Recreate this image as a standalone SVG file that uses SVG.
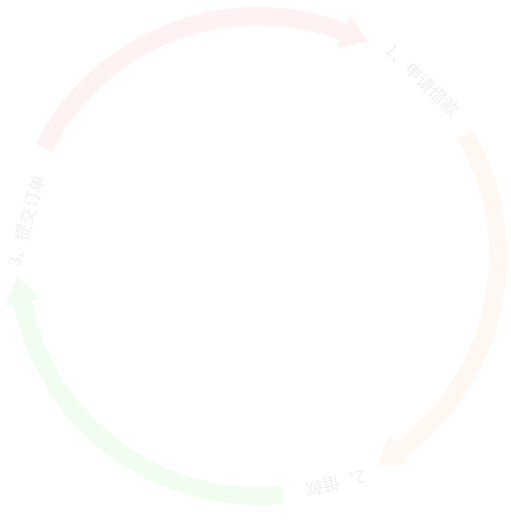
<svg xmlns="http://www.w3.org/2000/svg" width="511" height="520" viewBox="0 0 511 520">
  <style>
    .arc { fill: none; stroke-width: 18; stroke-linecap: butt; }
    .lbl { font-family: "Noto Sans CJK SC", "Liberation Sans", sans-serif; font-size: 17px; fill: #f1f1f1; text-anchor: middle; dominant-baseline: central; }
  </style>
  <defs>
    <marker id="mTop" markerUnits="userSpaceOnUse" markerWidth="30" markerHeight="40" refX="1" refY="20" orient="auto">
      <path d="M0,2 L27,20 L0,38 Z" fill="#fef2f2"/>
    </marker>
    <marker id="mRight" markerUnits="userSpaceOnUse" markerWidth="30" markerHeight="40" refX="1" refY="20" orient="auto">
      <path d="M0,2 L27,20 L0,38 Z" fill="#fff7f2"/>
    </marker>
    <marker id="mBottom" markerUnits="userSpaceOnUse" markerWidth="30" markerHeight="40" refX="1" refY="20" orient="auto">
      <path d="M0,2 L27,20 L0,38 Z" fill="#f2fdf2"/>
    </marker>
  </defs>
  <rect width="511" height="520" fill="#ffffff"/>
  <g id="connectors">
    <path class="arc" stroke="#fef2f2" d="M43.8,147.8 A240,240 0 0 1 344,31.9" marker-end="url(#mTop)"/>
    <path class="arc" stroke="#fff7f2" d="M464.8,134.2 A240,240 0 0 1 399.1,450.2" marker-end="url(#mRight)"/>
    <path class="arc" stroke="#f2fdf2" d="M283.1,494.7 A240,240 0 0 1 22.4,301.8" marker-end="url(#mBottom)"/>
  </g>
  <g id="label1">
    <text class="lbl" transform="translate(423,79) rotate(44)">1、申请借款</text>
  </g>
  <g id="label2">
    <text class="lbl" transform="translate(336,484) rotate(166)">2、借款</text>
  </g>
  <g id="label3">
    <text class="lbl" transform="translate(25,220) rotate(-74)">3、提交订单</text>
  </g>
</svg>
